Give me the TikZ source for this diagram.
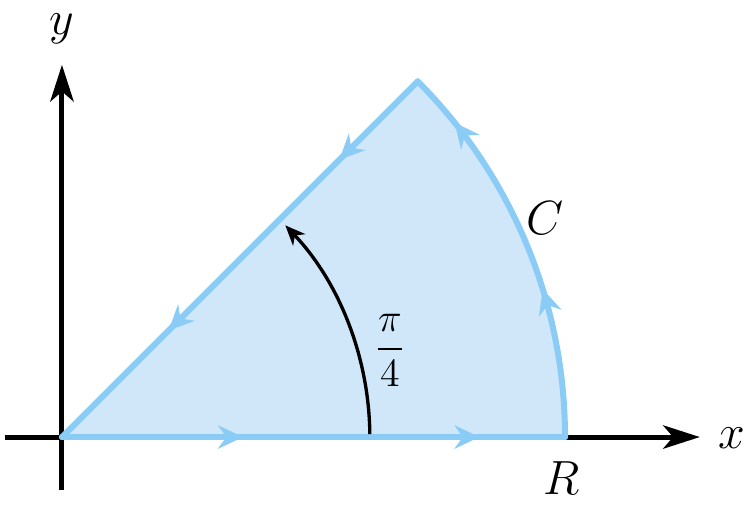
\documentclass[tikz,border=0pt]{standalone}
\usetikzlibrary{arrows.meta,decorations.markings}
\definecolor{sectorfill}{RGB}{208,231,249}
\definecolor{sectorline}{RGB}{138,204,245}
\tikzset{
  contour/.style={sectorline,line width=1.8pt,line cap=round,line join=round},
  flow/.style n args={2}{postaction={decorate},decoration={markings,
    mark=at position #1 with {\arrow{Stealth[length=7.5pt,width=7pt,inset=2.5pt]}},
    mark=at position #2 with {\arrow{Stealth[length=7.5pt,width=7pt,inset=2.5pt]}}}},
  axis/.style={line width=1.5pt,-{Stealth[length=11pt,width=7pt,inset=3pt]}},
  lbl/.style={font=\Large}
}
\begin{document}
\begin{tikzpicture}[x=1.0607cm,y=1.0607cm]
				\useasboundingbox (-0.616,-0.686) rectangle (6.789,4.344);
				% sector
				\fill[sectorfill] (0,0) -- (5,0) arc (0:45:5) -- cycle;
				% axes
				\draw[axis] (-0.567,0) -- (6.34,0);
				\draw[axis] (0,-0.527) -- (0,3.70);
				\node[lbl] (xl) at (6.66,-0.01) {$x$};
				\node[lbl] (yl) at (0,4.06) {$y$};
				% contour C
				\draw[contour,flow={0.36}{0.83}] (0,0) -- (5,0);
				\draw[contour,flow={0.38}{0.86}] (5,0) arc (0:45:5);
				\draw[contour,flow={0.22}{0.70}] (45:5) -- (0,0);
				% angle
				\draw[line width=1pt,-{Stealth[length=6pt,width=5pt,inset=1.8pt]}] (3.06,0.03) arc (0.6:43.5:3.06);
				\node[font=\large] (ang) at (3.26,0.86) {$\displaystyle\frac{\pi}{4}$};
				\node[lbl] (cl) at (4.80,2.18) {$C$};
				\node[lbl] (rl) at (4.97,-0.41) {$R$};
			\end{tikzpicture}
\end{document}
